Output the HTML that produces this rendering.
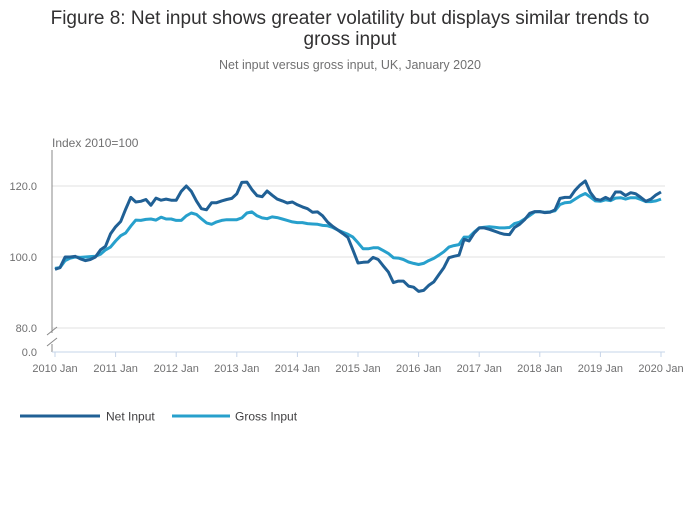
<!DOCTYPE html>
<html><head><meta charset="utf-8"><style>
body{margin:0;background:#fff;font-family:"Liberation Sans",sans-serif;}
svg text{font-family:"Liberation Sans",sans-serif;}
</style></head><body>
<svg id="chart" width="700" height="502">
<text x="350" y="24" text-anchor="middle" font-size="19" fill="#323132">Figure 8: Net input shows greater volatility but displays similar trends to</text>
<text x="350" y="45" text-anchor="middle" font-size="19" fill="#323132">gross input</text>
<text x="350" y="69" text-anchor="middle" font-size="12.5" fill="#707071">Net input versus gross input, UK, January 2020</text>
<text x="52" y="147" font-size="12" fill="#707071">Index 2010=100</text>
<g id="grid"></g><g id="series"></g>
<g>
<line x1="20" y1="416" x2="100" y2="416" stroke="#206095" stroke-width="3"/>
<text x="106" y="420.5" font-size="12" fill="#414042">Net Input</text>
<line x1="172" y1="416" x2="230" y2="416" stroke="#27a0cc" stroke-width="3"/>
<text x="235" y="420.5" font-size="12" fill="#414042">Gross Input</text>
</g>
</svg>
<script>
const yearLabels=["2010 Jan","2011 Jan","2012 Jan","2013 Jan","2014 Jan","2015 Jan","2016 Jan","2017 Jan","2018 Jan","2019 Jan","2020 Jan"];
const yTicks=[80,100,120];
const netInput=[96.5,97,100,100,100.2,99.5,99,99.3,100,102,103,106.5,
108.5,110,113.5,116.8,115.5,115.7,116.2,114.6,116.6,116,116.3,116,
116,118.5,120,118.5,115.8,113.6,113.3,115.3,115.3,115.8,116.2,116.5,
117.8,121,121.1,119,117.3,117,118.6,117.4,116.3,115.8,115.2,115.5,
114.7,114.1,113.6,112.6,112.7,111.6,109.8,108.6,107.6,106.6,105.5,102,
98.3,98.5,98.6,99.9,99.3,97.5,95.8,92.8,93.2,93.2,91.8,91.5,
90.3,90.6,92,93,95,97,99.8,100.2,100.5,105,104.5,106.7,
108.2,108.2,107.8,107.3,106.8,106.4,106.3,108.3,109.2,110.5,112.3,112.8,
112.8,112.5,112.6,113.3,116.5,116.8,116.8,118.8,120.3,121.4,118.2,116.3,
116,116.8,116.1,118.3,118.3,117.3,118.1,117.8,116.8,115.7,116.3,117.5,118.3];
const grossInput=[96.8,97,99,99.7,100,99.9,100,100.1,100.2,100.8,102,102.8,
104.5,106,106.8,108.7,110.4,110.3,110.6,110.7,110.4,111.2,110.7,110.7,
110.3,110.3,111.6,112.4,112,110.8,109.6,109.2,109.9,110.3,110.5,110.5,
110.5,111,112.4,112.7,111.6,111,110.8,111.3,111.1,110.7,110.3,109.9,
109.7,109.7,109.4,109.3,109.2,108.9,108.8,108.3,107.6,107,106.4,105.6,
104,102.3,102.3,102.6,102.6,101.8,101,99.8,99.7,99.3,98.6,98.2,
97.9,98.2,99,99.6,100.5,101.5,102.8,103.2,103.5,105.6,105.6,107,
108.2,108.4,108.5,108.4,108.2,108.2,108.3,109.4,109.8,110.7,111.7,112.7,
112.8,112.6,112.7,113,114.8,115.3,115.4,116.3,117.2,117.9,116.9,115.8,
115.7,116.1,115.9,116.6,116.7,116.3,116.7,116.7,116.2,115.6,115.6,115.8,116.3];
const NS="http://www.w3.org/2000/svg";
const x0=55,x1=661,n=netInput.length;
function xs(i){return x0+(x1-x0)*i/(n-1);}
function ys(v){return 257-(v-100)*3.55;}
function mk(t,a,p){const e=document.createElementNS(NS,t);for(const k in a)e.setAttribute(k,a[k]);p.appendChild(e);return e;}
const grid=document.getElementById('grid');
yTicks.forEach(v=>{
 const l=mk('line',{x1:52,x2:665,y1:ys(v),y2:ys(v),stroke:'#e0e0e0','stroke-width':1},grid);
 
 
 const t=mk('text',{x:37,y:ys(v)+4,'text-anchor':'end','font-size':11,fill:'#707071'},grid);
 t.textContent=v.toFixed(1);
 
 
});
const zt=mk('text',{x:37,y:356,'text-anchor':'end','font-size':11,fill:'#707071'},grid);zt.textContent="0.0";


const ya=mk('path',{d:'M52 150V333M52 344V352',stroke:'#888','stroke-width':1,fill:'none'},grid);


const br=mk('path',{d:'M47 335L57 327M47 346L57 338',stroke:'#888','stroke-width':1,fill:'none'},grid);


const xa=mk('line',{x1:52,x2:665,y1:352,y2:352,stroke:'#c6d4e8','stroke-width':1},grid);


yearLabels.forEach((lab,k)=>{
 const x=xs(k*12);
 const tk=mk('line',{x1:x,x2:x,y1:352,y2:357,stroke:'#c6d4e8'},grid);
 
 
 const t=mk('text',{x:x,y:372,'text-anchor':'middle','font-size':11,fill:'#707071'},grid);
 t.textContent=lab;
 
 
});
const ser=document.getElementById('series');
function line(d,c,name){
 const p=mk('path',{d:d.map((v,i)=>(i?'L':'M')+xs(i).toFixed(1)+' '+ys(v).toFixed(1)).join(''),stroke:c,'stroke-width':3,fill:'none','stroke-linejoin':'round'},ser);
 
 
}
line(grossInput,'#27a0cc','gross-input-line');
line(netInput,'#206095','net-input-line');
</script>
</body></html>
